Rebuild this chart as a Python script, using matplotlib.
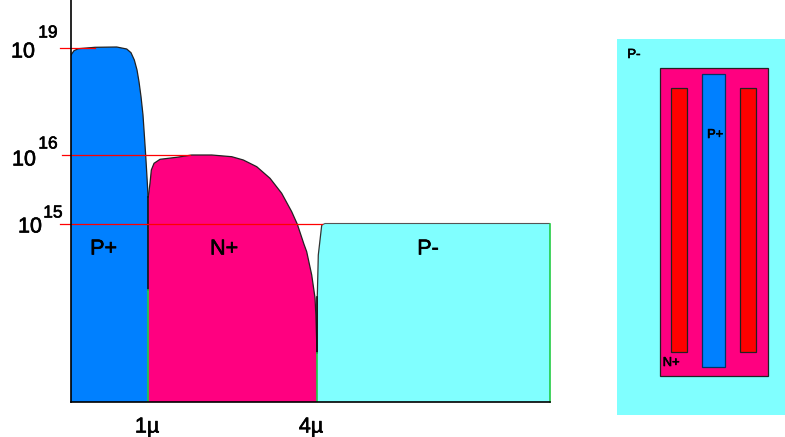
import matplotlib
matplotlib.use("Agg")
import matplotlib.pyplot as plt
import matplotlib.patheffects as pe
from matplotlib.patches import Rectangle

plt.rcParams['font.family'] = ['Liberation Sans', 'DejaVu Sans']

W, H = 785, 437
BLUE, PINK, CYAN, RED, GREEN = '#0080ff', '#ff0080', '#80ffff', '#ff0000', '#22cc44'
HEAVY = [pe.withStroke(linewidth=0.45, foreground='black')]

# doping profiles: position in microns, schematic height on the drawing's non-uniform scale
p_plus_x = [-0.367, -0.367, -0.314, -0.237, 0.059, 0.444, 0.622, 0.698, 0.757, 0.805, 0.840, 0.876,
            0.911, 0.941, 0.964, 0.988, 1.0, 1.0]
p_plus_y = [0, 347, 351.3, 353.3, 354.7, 355, 353, 349.3, 342, 332, 320.3, 305.3,
            287, 262, 242, 219, 205, 0]
n_plus_x = [1.0, 1.005, 1.036, 1.059, 1.107, 1.213, 1.51, 1.776, 2.131, 2.486, 2.692, 2.93, 3.166,
            3.373, 3.551, 3.651, 3.769, 3.817, 3.906, 3.965, 3.982, 4.0, 4.0]
n_plus_y = [0, 205.3, 219, 232, 238.7, 242.7, 244.7, 247, 247, 245.3, 242, 235.3, 223.7,
            208.7, 190.3, 177.7, 157.7, 150.3, 127, 104, 84, 49, 0]
p_minus_x = [4.0, 4.0, 4.005, 4.023, 4.084, 4.142, 8.136, 8.136]
p_minus_y = [0, 49, 105, 147, 177, 178.5, 178.5, 0]

levels = [354, 247, 178]
level_ends = [0.06, 1.75, 4.09]
level_starts = [-0.56, -0.53, -0.56]
exponents = ['19', '16', '15']
x_ticks = [1, 4]
x_labels = ['1µ', '4µ']
regions = ['P+', 'N+', 'P-']
region_x = [0.21, 2.35, 5.97]

# plan view layout: (left, top, right, bottom) in the inset's own units
plan_well = (617, 39, 785, 415)
plan_n = (659.5, 68, 768, 376)
plan_p = (702, 74, 725, 367)
plan_contacts = [(671, 88, 687, 352), (740, 88, 756, 352)]

fig = plt.figure(figsize=(W / 100, H / 100), dpi=100, facecolor='white')
ax = fig.add_axes([71 / W, 1 - 402 / H, (550 - 71) / W, 402 / H])
ax.set_xlim(-0.367, 8.136)
ax.set_ylim(0, 402)
ax.patch.set_alpha(0)
for s in ['top', 'right']:
    ax.spines[s].set_visible(False)
for s in ['left', 'bottom']:
    ax.spines[s].set_linewidth(1.2)
    ax.spines[s].set_zorder(6)

ax.fill(p_plus_x, p_plus_y, color=BLUE, lw=0, zorder=2)
ax.fill(n_plus_x, n_plus_y, color=PINK, lw=0, zorder=2)
ax.fill(p_minus_x, p_minus_y, color=CYAN, lw=0, zorder=2)
ax.plot(p_plus_x[1:-1], p_plus_y[1:-1], color='#222222', lw=0.9, zorder=3)
ax.plot(n_plus_x[1:-1], n_plus_y[1:-1], color='#222222', lw=0.9, zorder=3)
ax.plot(p_minus_x[1:5], p_minus_y[1:5], color='#333333', lw=0.9, zorder=3)
ax.plot(p_minus_x[4:7], p_minus_y[4:7], color='#555555', lw=0.8, zorder=3)
ax.plot([1, 1], [112, 205], color='#111111', lw=1.2, zorder=3)
ax.plot([1, 1], [0, 112], color=GREEN, lw=1.2, zorder=3)
ax.plot([4, 4], [49, 105], color='#111111', lw=1.2, zorder=3)
ax.plot([4, 4], [0, 49], color=GREEN, lw=1.2, zorder=3)
ax.plot([8.136, 8.136], [0, 178], color=GREEN, lw=1.2, zorder=3, clip_on=False)

for lv, a, b in zip(levels, level_starts, level_ends):
    ax.plot([a, b], [lv, lv], color=RED, lw=0.9, zorder=5, clip_on=False)

base_dx = [-48, -47, -41]
base_dy = [-4, -5, -3]
exp_dx = [-23, -23, -18]
exp_dy = [15, 11, 11]
for lv, e, bx, by, ex, ey in zip(levels, exponents, base_dx, base_dy, exp_dx, exp_dy):
    ax.annotate('10', xy=(-0.367, lv), xytext=(bx, by), textcoords='offset pixels',
                fontsize=15.5, ha='center', va='center', annotation_clip=False, path_effects=HEAVY)
    ax.annotate(e, xy=(-0.367, lv), xytext=(ex, ey), textcoords='offset pixels',
                fontsize=12.5, ha='center', va='center', annotation_clip=False, path_effects=HEAVY)

ax.set_xticks(x_ticks)
ax.set_xticklabels([])
ax.set_yticks([])
ax.tick_params(length=0)
for x, lab, d in zip(x_ticks, x_labels, [-1, -6]):
    ax.annotate(lab, xy=(x, 0), xytext=(d, -25), textcoords='offset pixels',
                fontsize=15.5, ha='center', va='center', annotation_clip=False, path_effects=HEAVY)

for x, lab in zip(region_x, regions):
    ax.text(x, 153, lab, fontsize=15.5, ha='center', va='center', zorder=7, path_effects=HEAVY)

# plan view
ins = fig.add_axes([0, 0, 1, 1])
ins.set_xlim(0, W)
ins.set_ylim(H, 0)
ins.axis('off')
ins.patch.set_alpha(0)


def box(r, fc, ec, lw, z):
    ins.add_patch(Rectangle((r[0], r[1]), r[2] - r[0], r[3] - r[1], fc=fc, ec=ec, lw=lw, zorder=z))


box(plan_well, CYAN, 'none', 0, 1)
box(plan_n, PINK, '#222222', 0.9, 2)
box(plan_p, BLUE, '#003366', 0.9, 3)
for c in plan_contacts:
    box(c, RED, '#222222', 0.9, 3)
ins.text(634, 55, 'P-', fontsize=9.5, ha='center', va='center', zorder=5, path_effects=HEAVY)
ins.text(715, 135, 'P+', fontsize=9.3, ha='center', va='center', zorder=5, path_effects=HEAVY)
ins.text(671, 363, 'N+', fontsize=9.3, ha='center', va='center', zorder=5, path_effects=HEAVY)

fig.savefig('out.png', dpi=100)
